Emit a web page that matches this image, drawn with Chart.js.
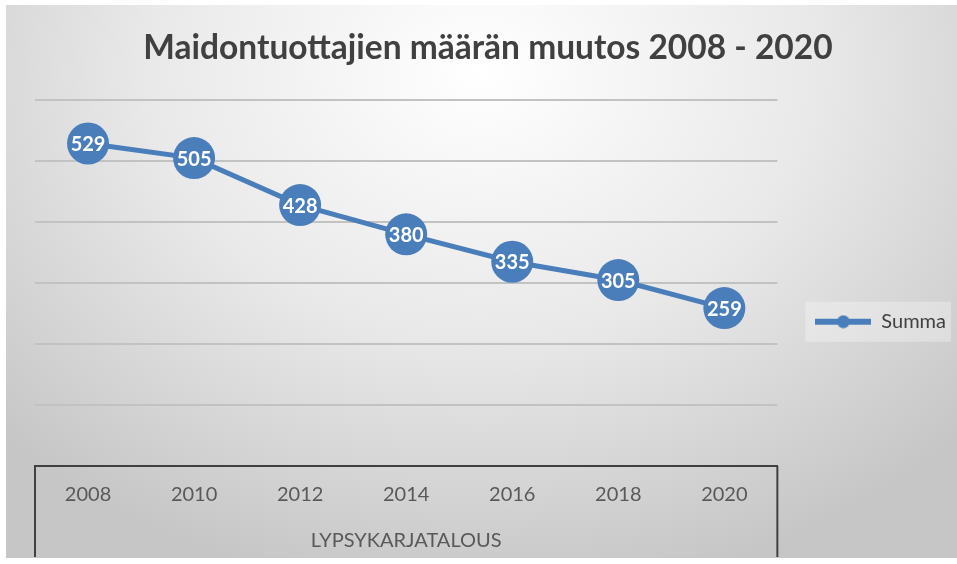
<!DOCTYPE html>
<html>
<head>
<meta charset="utf-8">
<script src="https://cdn.jsdelivr.net/npm/chart.js@4.4.0/dist/chart.umd.min.js"></script>
<style>
    body { margin: 0; background: #fff; }
    .wrap { position: relative; width: 957px; height: 564px; overflow: hidden; }
    .bg {
        position: absolute; left: 6px; top: 5px; right: 0; bottom: 6px;
        background: radial-gradient(ellipse 70% 95% at 50% 12%, #ffffff 0%, #e9e9e9 50%, #c6c6c6 100%);
    }
    canvas { position: absolute; left: 0; top: 0; }
</style>
</head>
<body>
<div class="wrap">
    <div class="bg"></div>
    <canvas id="myChart" width="957" height="564"></canvas>
</div>
<script>
// data
const years = ["2008", "2010", "2012", "2014", "2016", "2018", "2020"];
const summa = [529, 505, 428, 380, 335, 305, 259];
const seriesName = "Summa";
const groupLabel = "LYPSYKARJATALOUS";
const yMax = 600;
const yStep = 100;

const blue = "#4a7ebb";

// legend marker: line with a dot
const marker = document.createElement("canvas");
marker.width = 56;
marker.height = 14;
const mctx = marker.getContext("2d");
mctx.strokeStyle = blue;
mctx.lineWidth = 6;
mctx.beginPath();
mctx.moveTo(0, 7);
mctx.lineTo(56, 7);
mctx.stroke();
mctx.fillStyle = blue;
mctx.beginPath();
mctx.arc(28, 7, 6.5, 0, Math.PI * 2);
mctx.fill();

// values inside the circles
const pointLabels = {
    id: "pointLabels",
    afterDatasetsDraw(chart) {
        const ctx = chart.ctx;
        const meta = chart.getDatasetMeta(0);
        ctx.save();
        ctx.fillStyle = "#ffffff";
        ctx.font = "bold 20px Lato";
        ctx.textAlign = "center";
        ctx.textBaseline = "middle";
        meta.data.forEach((pt, i) => {
            ctx.fillText(chart.data.datasets[0].data[i], pt.x, pt.y + 1);
        });
        ctx.restore();
    },
};

// side lines of the category group box + faint legend panel
const groupBox = {
    id: "groupBox",
    beforeDraw(chart) {
        const lg = chart.legend;
        if (!lg || !lg.legendHitBoxes.length) return;
        const hb = lg.legendHitBoxes[0];
        const ctx = chart.ctx;
        ctx.save();
        ctx.fillStyle = "rgba(255,255,255,0.3)";
        ctx.fillRect(hb.left - 10, hb.top - 10, hb.width + 15, hb.height + 20);
        ctx.restore();
    },
    afterDraw(chart) {
        const ctx = chart.ctx;
        const area = chart.chartArea;
        const x = chart.scales.x;
        ctx.save();
        ctx.strokeStyle = "#404040";
        ctx.lineWidth = 2;
        ctx.beginPath();
        ctx.moveTo(area.left, area.bottom);
        ctx.lineTo(area.left, x.bottom);
        ctx.moveTo(area.right, area.bottom);
        ctx.lineTo(area.right, x.bottom);
        ctx.stroke();
        ctx.restore();
    },
};

const ctx = document.getElementById("myChart").getContext("2d");
new Chart(ctx, {
    type: "line",
    data: {
        labels: years,
        datasets: [
            {
                label: seriesName,
                data: summa,
                borderColor: blue,
                borderWidth: 5,
                backgroundColor: blue,
                pointBackgroundColor: blue,
                pointBorderWidth: 0,
                pointRadius: 21,
                pointHoverRadius: 21,
                tension: 0,
            },
        ],
    },
    options: {
        responsive: false,
        animation: false,
        layout: {
            padding: { left: 20, right: 1, top: 0, bottom: 7 },
        },
        scales: {
            x: {
                offset: true,
                grid: { display: false },
                border: { display: true, color: "#404040", width: 2 },
                ticks: {
                    color: "#595959",
                    padding: 9,
                    font: { family: "Lato", size: 20 },
                },
                title: {
                    display: true,
                    text: groupLabel,
                    color: "#595959",
                    font: { family: "Lato", size: 20 },
                    padding: { top: 13, bottom: 4 },
                },
            },
            y: {
                min: 0,
                max: yMax,
                ticks: { display: false, stepSize: yStep },
                grid: { color: "#c2c2c2", lineWidth: 2, drawTicks: false },
                border: { display: false },
                afterFit: (scale) => {
                    scale.width = 15;
                },
            },
        },
        plugins: {
            title: {
                display: true,
                text: "Maidontuottajien määrän muutos 2008 - 2020",
                color: "#404040",
                font: { family: "Lato", size: 33.5, weight: "bold" },
                padding: { top: 28, bottom: 32 },
            },
            legend: {
                position: "right",
                title: { display: true, text: "", padding: { top: 72, bottom: 0 } },
                labels: {
                    usePointStyle: true,
                    pointStyle: marker,
                    pointStyleWidth: 56,
                    padding: 38,
                    color: "#404040",
                    font: { family: "Lato", size: 20 },
                },
            },
            tooltip: { enabled: false },
        },
    },
    plugins: [pointLabels, groupBox],
});
</script>
</body>
</html>
